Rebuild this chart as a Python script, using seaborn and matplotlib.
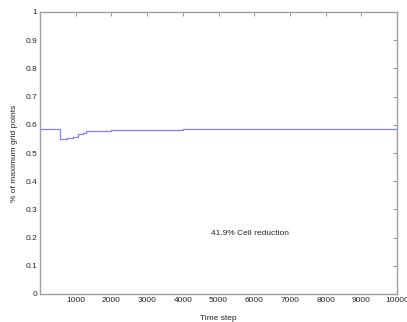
import matplotlib
matplotlib.use("Agg")
import matplotlib.pyplot as plt
import seaborn as sns
import pandas as pd

# --- data ---
time_step = [0, 550, 750, 930, 1060, 1200, 1300, 2000, 3000, 4000, 6000, 9990, 10000]
cell_frac = [0.586, 0.550, 0.552, 0.558, 0.567, 0.572, 0.577, 0.580, 0.582, 0.584, 0.584, 0.584, 0.48]
x_ticks = [1000, 2000, 3000, 4000, 5000, 6000, 7000, 8000, 9000, 10000]
y_ticks = [0, 0.1, 0.2, 0.3, 0.4, 0.5, 0.6, 0.7, 0.8, 0.9, 1]
y_tick_labels = ["0", "0.1", "0.2", "0.3", "0.4", "0.5", "0.6", "0.7", "0.8", "0.9", "1"]
note = "41.9% Cell reduction"

sns.set_style("white")
plt.rcParams['font.family'] = ['Liberation Sans', 'DejaVu Sans']

df = pd.DataFrame({"Time step": time_step, "frac": cell_frac})

fig = plt.figure(figsize=(4.07, 3.22), dpi=100)
ax = fig.add_axes([40 / 407, 28 / 322, 357 / 407, 282 / 322])

sns.lineplot(data=df, x="Time step", y="frac", ax=ax, color="#8080ff",
             linewidth=0.9, drawstyle="steps-post")

ax.set_xlim(0, 10000)
ax.set_ylim(0, 1)
ax.set_xticks(x_ticks)
ax.set_xticklabels([str(t) for t in x_ticks])
ax.set_yticks(y_ticks)
ax.set_yticklabels(y_tick_labels)
ax.tick_params(direction="in", length=3, width=0.6, color="#808080",
               labelsize=6, top=True, right=True, pad=2)
for s in ax.spines.values():
    s.set_color("#a0a0a0")
    s.set_linewidth(1.0)

ax.set_xlabel("Time step", fontsize=6, labelpad=8)
ax.set_ylabel("% of maximum grid points", fontsize=6, labelpad=5)
ax.text(4800, 0.215, note, fontsize=6, va="center", ha="left")

fig.savefig("out.png", dpi=100)
